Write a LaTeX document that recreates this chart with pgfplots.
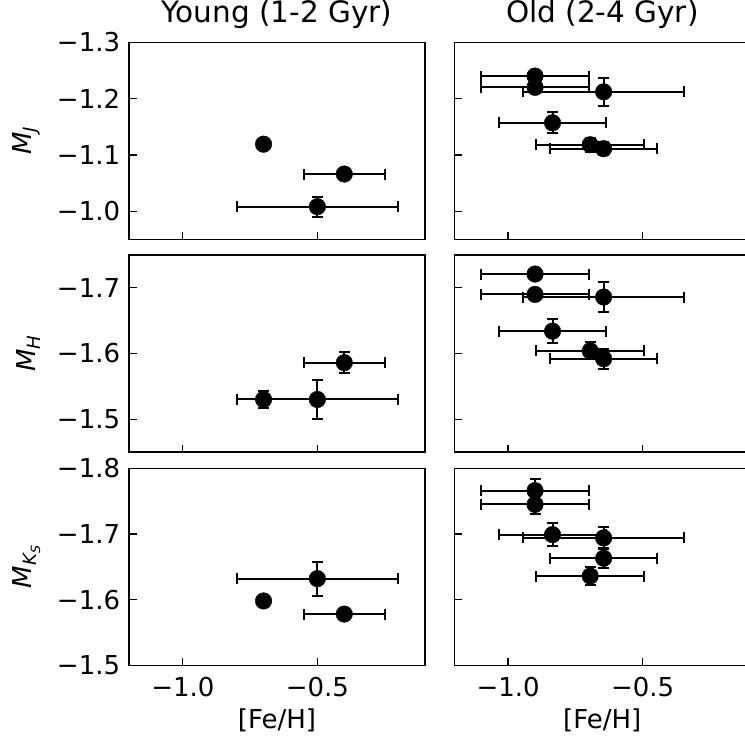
\documentclass[border=0pt]{standalone}
\usepackage{pgfplots}
\pgfplotsset{compat=1.18}
\usepackage{pgfplotstable}
\usepackage{fontspec}
\setmainfont{DejaVu Sans}

% absolute magnitudes against metallicity
% columns: [Fe/H], its error, then M_J, M_H, M_Ks with their errors
\pgfplotstableread{
x      ex    yJ     eJ    yH     eH    yK     eK
-0.700 0.00  -1.119 0.004 -1.530 0.013 -1.598 0.008
-0.400 0.15  -1.066 0.004 -1.586 0.016 -1.578 0.006
-0.500 0.30  -1.008 0.018 -1.530 0.029 -1.632 0.026
}\young

\pgfplotstableread{
x      ex    yJ     eJ    yH     eH    yK     eK
-0.900 0.20  -1.240 0.006 -1.721 0.006 -1.766 0.018
-0.900 0.20  -1.220 0.006 -1.690 0.006 -1.745 0.015
-0.645 0.30  -1.212 0.025 -1.686 0.023 -1.694 0.017
-0.835 0.20  -1.157 0.019 -1.634 0.018 -1.699 0.018
-0.695 0.20  -1.118 0.012 -1.604 0.013 -1.636 0.014
-0.645 0.20  -1.111 0.012 -1.592 0.015 -1.663 0.015
}\old

\newcommand\labfont{\fontsize{26}{31}\selectfont}
\newcommand\subA[1]{\raisebox{-5pt}{\fontsize{18.2}{20}\selectfont\itshape #1}}
\newcommand\subB[1]{\raisebox{-3.5pt}{\fontsize{12.7}{14}\selectfont\itshape #1}}

% panel geometry: 296pt for 1.1 dex, 197pt for the magnitude range
\newcommand\xunit{269.09}

\pgfplotsset{
  cap/.style={only marks, mark=#1, mark size=5.5pt,
    mark options={black, line width=2pt}},
  % error segment as a stretched mark, half length from the data
  seg/.style 2 args={scatter, only marks, mark=#1,
    scatter/use mapped color={draw=black, fill=black},
    mark options={line width=2pt},
    visualization depends on={#2 \as \halflen},
    scatter/@pre marker code/.append style={/tikz/mark size=\halflen}},
}

% one star sample: table, magnitude column, error column, pt per magnitude
% error bars (segments and caps) first, filled markers on top
\newcommand\stars[4]{%
  \addplot[seg={-}{\xunit*\thisrow{ex}}] table[x=x, y=#2] {#1};
  \addplot[seg={|}{#4*\thisrow{#3}}] table[x=x, y=#2] {#1};
  \addplot[cap=|] table[x expr=\thisrow{x}-\thisrow{ex}, y=#2] {#1};
  \addplot[cap=|] table[x expr=\thisrow{x}+\thisrow{ex}, y=#2] {#1};
  \addplot[cap=-] table[x=x, y expr=\thisrow{#2}-\thisrow{#3}] {#1};
  \addplot[cap=-] table[x=x, y expr=\thisrow{#2}+\thisrow{#3}] {#1};
  \addplot[only marks, mark=*, mark size=8.3pt, black]
    table[x=x, y=#2] {#1};}

\pgfplotsset{
  panel/.style={
    scale only axis, width=296pt, height=197pt,
    xmin=-1.2, xmax=-0.1, y dir=reverse,
    axis line style={line width=1.3pt, black},
    tick align=inside, xtick pos=bottom, ytick pos=left,
    major tick length=7.5pt,
    tick style={line width=1.3pt, black},
    xtick={-1,-0.5}, xticklabels=\empty,
    tick label style={font=\labfont},
    xticklabel style={anchor=base, yshift=-30.7pt, inner sep=0pt},
    yticklabel style={anchor=east, inner sep=0pt, xshift=-8.7pt},
    label style={font=\labfont},
    title style={font=\fontsize{29.5}{35}\selectfont, at={(0.5,1)}, anchor=base, yshift=14pt},
    ylabel style={at={(axis description cs:-0.299,0.5)}, anchor=south, inner sep=0pt},
    xlabel style={at={(axis description cs:0.5,0)}, anchor=base, yshift=-63pt},
  },
  left/.style={panel, at={(129pt,#1)}, anchor=north west},
  right/.style={panel, at={(454.3pt,#1)}, anchor=north west, yticklabels=\empty},
  bottomrow/.style={xticklabels={−1.0,−0.5}, xlabel={[Fe/H]}},
}

\begin{document}
\begin{tikzpicture}
% top row: M_J
\begin{axis}[left=-42.3pt, ymin=-1.3, ymax=-0.95,
  ytick={-1.3,-1.2,-1.1,-1.0}, yticklabels={−1.3,−1.2,−1.1,−1.0},
  title={Young (1-2 Gyr)}, ylabel={\textit{M}\subA{J}}]
  \stars{\young}{yJ}{eJ}{562.86}
\end{axis}
\begin{axis}[right=-42.3pt, ymin=-1.3, ymax=-0.95,
  ytick={-1.3,-1.2,-1.1,-1.0}, title={Old (2-4 Gyr)}]
  \stars{\old}{yJ}{eJ}{562.86}
\end{axis}
% middle row: M_H
\begin{axis}[left=-255pt, ymin=-1.75, ymax=-1.45,
  ytick={-1.7,-1.6,-1.5}, yticklabels={−1.7,−1.6,−1.5},
  ylabel={\textit{M}\subA{H}}]
  \stars{\young}{yH}{eH}{656.67}
\end{axis}
\begin{axis}[right=-255pt, ymin=-1.75, ymax=-1.45,
  ytick={-1.7,-1.6,-1.5}]
  \stars{\old}{yH}{eH}{656.67}
\end{axis}
% bottom row: M_Ks
\begin{axis}[left=-468.3pt, bottomrow, ymin=-1.8, ymax=-1.5,
  ytick={-1.8,-1.7,-1.6,-1.5}, yticklabels={−1.8,−1.7,−1.6,−1.5},
  ylabel={\textit{M}\subA{K\subB{S}}}]
  \stars{\young}{yK}{eK}{656.67}
\end{axis}
\begin{axis}[right=-468.3pt, bottomrow, ymin=-1.8, ymax=-1.5,
  ytick={-1.8,-1.7,-1.6,-1.5}]
  \stars{\old}{yK}{eK}{656.67}
\end{axis}
\pgfresetboundingbox
\useasboundingbox (0pt,0pt) rectangle (745pt,-740pt);
\end{tikzpicture}
\end{document}
